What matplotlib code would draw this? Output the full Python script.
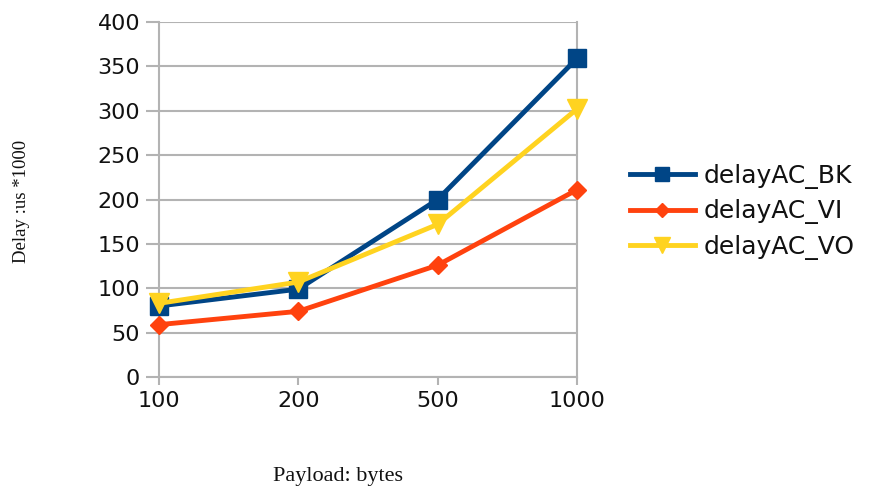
import matplotlib.pyplot as plt
import numpy as np

payloads = ['100', '200', '500', '1000']
delay_bk = [80, 99, 200, 359]
delay_vi = [59, 74, 126, 211]
delay_vo = [83, 107, 172, 302]

fig = plt.figure(figsize=(8.7, 4.95), dpi=100)
ax = fig.add_axes([159 / 870, 1 - 377 / 495, 418 / 870, 355 / 495])

ind = np.arange(len(payloads))
ax.plot(ind, delay_bk, '-s', color='#004586', lw=3.5, ms=13, label='delayAC_BK', clip_on=False, zorder=3)
ax.plot(ind, delay_vi, '-D', color='#ff420e', lw=3.5, ms=9, label='delayAC_VI', clip_on=False, zorder=3)
ax.plot(ind, delay_vo, '-v', color='#ffd320', lw=3.5, ms=14, label='delayAC_VO', clip_on=False, zorder=3)

ax.set_xlim(0, 3)
ax.set_ylim(0, 400)
ax.set_yticks(np.arange(0, 401, 50))
ax.set_xticks(ind, payloads)
ax.yaxis.grid(True, color='#b3b3b3', lw=1.5)
ax.set_axisbelow(True)
for s in ax.spines.values():
    s.set_color('#b3b3b3')
    s.set_linewidth(1.5)
ax.spines['top'].set_visible(False)
ax.tick_params(axis='y', length=9.5, width=1.5, color='#b3b3b3', pad=4, labelsize=16, labelcolor='#111111')
ax.tick_params(axis='x', length=6, width=1.5, color='#b3b3b3', pad=4, labelsize=16, labelcolor='#111111')

fig.text(338 / 870, 1 - 477 / 495, 'Payload: bytes', family='Liberation Serif', fontsize=16,
         ha='center', va='center', color='#111111')
fig.text(22 / 870, 1 - 201 / 495, 'Delay :us *1000', family='Liberation Serif', fontsize=13.5,
         ha='center', va='center', rotation=90, color='#111111')

ax.legend(loc='center left', bbox_to_anchor=(630 / 870, 1 - 212 / 495), bbox_transform=fig.transFigure,
          frameon=False, fontsize=18, handlelength=2.6, handletextpad=0.35, labelspacing=0.42,
          markerscale=0.8, borderaxespad=0, borderpad=0, labelcolor='#111111')

plt.savefig('out.png', dpi=100)
